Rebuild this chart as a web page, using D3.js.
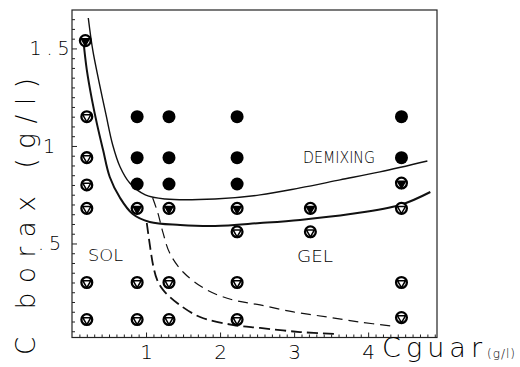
<!DOCTYPE html>
<html>
<head>
<meta charset="utf-8">
<script src="https://cdn.jsdelivr.net/npm/d3@7/dist/d3.min.js"></script>
<style>
  html, body { margin: 0; padding: 0; background: #fff; }
  svg { display: block; }
  text { font-family: "DejaVu Sans", "Liberation Sans", sans-serif; fill: #000; }
</style>
</head>
<body>
<svg id="chart" width="520" height="367"></svg>
<script>
// Phase diagram of guar / borax solutions: concentration of guar (x) vs borax (y)

// Demixing samples (filled circles)
const demixX = [0.88, 1.31, 2.23, 0.88, 1.31, 2.23, 0.88, 1.31, 2.23, 4.45, 4.45];
const demixY = [1.15, 1.15, 1.15, 0.94, 0.94, 0.94, 0.805, 0.805, 0.805, 1.15, 0.94];

// Gel samples close to the demixing line (circle with filled triangle)
const gelDarkX = [0.18, 0.88, 1.31, 2.23, 3.22, 4.45];
const gelDarkY = [1.54, 0.68, 0.68, 0.68, 0.68, 0.81];

// Sol / gel samples (circle with open triangle)
const openX = [0.2, 0.2, 0.2, 0.2, 0.2, 0.2, 0.88, 0.88, 1.31, 1.31, 2.23, 2.23, 2.23, 3.22, 4.45, 4.45, 4.45];
const openY = [1.15, 0.94, 0.80, 0.68, 0.30, 0.11, 0.30, 0.11, 0.30, 0.11, 0.56, 0.30, 0.11, 0.56, 0.68, 0.30, 0.12];

// Demixing boundary (upper solid line)
const demixLineX = [0.22, 0.28, 0.36, 0.46, 0.55, 0.65, 0.78, 0.99, 1.26, 1.93, 2.54, 3.08, 3.62, 4.16, 4.80];
const demixLineY = [1.656, 1.492, 1.338, 1.159, 1.005, 0.892, 0.810, 0.749, 0.728, 0.728, 0.749, 0.785, 0.826, 0.867, 0.923];

// Sol-gel boundary (lower solid line)
const gelLineX = [0.15, 0.20, 0.27, 0.34, 0.42, 0.51, 0.65, 0.82, 1.05, 1.46, 1.93, 2.54, 3.08, 3.76, 4.43, 4.84];
const gelLineY = [1.554, 1.390, 1.236, 1.108, 0.979, 0.841, 0.733, 0.651, 0.610, 0.595, 0.590, 0.605, 0.621, 0.651, 0.697, 0.764];

// Dashed lines below the gel boundary
const dashBoldX = [1.01, 1.06, 1.10, 1.15, 1.23, 1.42, 1.73, 2.18, 2.54, 3.08, 3.55];
const dashBoldY = [0.605, 0.47, 0.38, 0.313, 0.262, 0.195, 0.123, 0.082, 0.067, 0.046, 0.036];
const dashThinX = [1.09, 1.16, 1.23, 1.32, 1.50, 1.82, 2.18, 2.54, 2.99, 3.45, 3.89, 4.32];
const dashThinY = [0.733, 0.656, 0.554, 0.451, 0.354, 0.262, 0.210, 0.185, 0.149, 0.123, 0.097, 0.077];

// Axis ticks
const xTicks = [1, 2, 3, 4];
const xTickLabels = ["1", "2", "3", "4"];
const yTicks = [0.5, 1, 1.5];
const yTickLabels = [".5", "1", "1.5"];

const svg = d3.select("#chart");

const x = d3.scaleLinear().domain([0, 4.93]).range([72, 437]);
const y = d3.scaleLinear().domain([0.018, 1.697]).range([337.5, 10]);

const zip = (xs, ys) => xs.map((v, i) => [v, ys[i]]);

// Frame
svg.append("rect")
  .attr("x", x(0)).attr("y", y(1.697))
  .attr("width", x(4.93) - x(0)).attr("height", y(0.018) - y(1.697))
  .attr("fill", "none").attr("stroke", "#222").attr("stroke-width", 1.2);

// Minor and major ticks, pointing inward
const minorX = d3.range(0.1, 4.9, 0.1).filter(v => Math.abs(v - Math.round(v)) > 0.01);
const minorY = d3.range(0.05, 1.69, 0.05).filter(v => Math.abs(v * 2 - Math.round(v * 2)) > 0.01);

const xAxisMinor = d3.axisBottom(x).tickValues(minorX).tickSize(-3).tickFormat("");
const xAxisMajor = d3.axisBottom(x).tickValues(xTicks).tickSize(-5).tickPadding(7)
  .tickFormat((d, i) => xTickLabels[i]);
const yAxisMinor = d3.axisLeft(y).tickValues(minorY).tickSize(-3).tickFormat("");
const yAxisMajor = d3.axisLeft(y).tickValues(yTicks).tickSize(-5).tickPadding(4)
  .tickFormat((d, i) => yTickLabels[i]);

const gx = svg.append("g").attr("transform", `translate(0,${y(0.018)})`);
gx.append("g").call(xAxisMinor);
gx.append("g").call(xAxisMajor);
const gy = svg.append("g").attr("transform", `translate(${x(0)},0)`);
gy.append("g").call(yAxisMinor);
gy.append("g").call(yAxisMajor);

svg.selectAll(".domain").remove();
svg.selectAll(".tick line").attr("stroke", "#222").attr("stroke-width", 1);
gx.selectAll(".tick text")
  .style("font-family", "'DejaVu Sans', sans-serif")
  .style("font-size", "20px").style("font-weight", 200).attr("fill", "#000");
gy.selectAll(".tick text")
  .style("font-family", "'DejaVu Sans', sans-serif")
  .style("font-size", "19px").style("font-weight", 200).attr("fill", "#000")
  .attr("text-anchor", "middle")
  .attr("x", d => d === 1 ? -23 : -20)
  .attr("letter-spacing", d => d === 1 ? 0 : 5);

// Boundary lines
const line = d3.line().x(d => x(d[0])).y(d => y(d[1])).curve(d3.curveCatmullRom.alpha(0.5));

svg.append("path").attr("d", line(zip(demixLineX, demixLineY)))
  .attr("fill", "none").attr("stroke", "#111").attr("stroke-width", 1.4);
svg.append("path").attr("d", line(zip(gelLineX, gelLineY)))
  .attr("fill", "none").attr("stroke", "#111").attr("stroke-width", 2);
svg.append("path").attr("d", line(zip(dashBoldX, dashBoldY)))
  .attr("fill", "none").attr("stroke", "#111").attr("stroke-width", 1.8)
  .attr("stroke-dasharray", "11,5");
svg.append("path").attr("d", line(zip(dashThinX, dashThinY)))
  .attr("fill", "none").attr("stroke", "#111").attr("stroke-width", 1.2)
  .attr("stroke-dasharray", "10,6");

// Markers
const tri = d3.symbol().type(d3.symbolTriangle).size(28);

function ringMarkers(data, filledTri) {
  const g = svg.append("g").selectAll("g").data(data).join("g")
    .attr("transform", d => `translate(${x(d[0])},${y(d[1])})`);
  g.append("circle").attr("r", 5.4)
    .attr("fill", "#fff").attr("stroke", "#000").attr("stroke-width", 2.3);
  g.append("path").attr("d", tri)
    .attr("transform", "rotate(180) translate(0,-0.5)")
    .attr("fill", filledTri ? "#000" : "#fff")
    .attr("stroke", "#000").attr("stroke-width", 1.5);
}
ringMarkers(zip(openX, openY), false);
ringMarkers(zip(gelDarkX, gelDarkY), true);

svg.append("g").selectAll("circle").data(zip(demixX, demixY)).join("circle")
  .attr("cx", d => x(d[0])).attr("cy", d => y(d[1])).attr("r", 6.5)
  .attr("fill", "#000");

// Region labels
const regionFont = "16px";
svg.append("text").attr("x", 88).attr("y", 261).attr("textLength", 35)
  .attr("lengthAdjust", "spacingAndGlyphs")
  .style("font-size", regionFont).style("font-weight", 200).text("SOL");
svg.append("text").attr("x", 297).attr("y", 262).attr("textLength", 36)
  .attr("lengthAdjust", "spacingAndGlyphs")
  .style("font-size", regionFont).style("font-weight", 200).text("GEL");
svg.append("text").attr("x", 303).attr("y", 163).attr("textLength", 72)
  .attr("lengthAdjust", "spacingAndGlyphs")
  .style("font-size", regionFont).style("font-weight", 200).text("DEMIXING");

// Axis titles
svg.append("text")
  .attr("transform", "translate(35,355) rotate(-90)")
  .attr("textLength", 277).attr("lengthAdjust", "spacing")
  .style("font-size", "26px").style("font-weight", 200)
  .text("C borax (g/l)");

const xt = svg.append("text").attr("x", 382).attr("y", 357)
  .style("font-weight", 200);
xt.append("tspan").style("font-size", "27px")
  .attr("textLength", 100).attr("lengthAdjust", "spacing").text("Cguar");
xt.append("tspan").style("font-size", "12px").attr("dy", 1)
  .attr("letter-spacing", 1).text("(g/l)");
</script>
</body>
</html>
